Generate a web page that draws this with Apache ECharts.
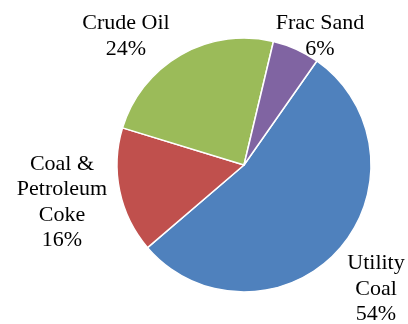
<!DOCTYPE html>
<html>
<head>
<meta charset="utf-8">
<script src="https://cdn.jsdelivr.net/npm/echarts@6/dist/echarts.min.js"></script>
<style>
  html, body { margin: 0; padding: 0; background: #fff; }
  #chart { width: 408px; height: 324px; }
</style>
</head>
<body>
<div id="chart"></div>
<script>
// Share of shipments by commodity (percent)
const categories = ['Utility\nCoal', 'Coal &\nPetroleum\nCoke', 'Crude Oil', 'Frac Sand'];
const shares = [54, 16, 24, 6];
const colors = ['#4F81BD', '#C0504D', '#9BBB59', '#8064A2'];

// Where each slice's label block is centred (px within the chart)
const labelSpots = [
  [376, 289],
  [62, 202],
  [126, 36],
  [320, 36]
];

const chart = echarts.init(document.getElementById('chart'), null, { renderer: 'canvas' });

chart.setOption({
  animation: false,
  backgroundColor: '#ffffff',
  series: [{
    type: 'pie',
    center: [244, 165],
    radius: 127,
    startAngle: 55,
    clockwise: true,
    avoidLabelOverlap: false,
    itemStyle: { borderColor: '#ffffff', borderWidth: 1.5 },
    label: {
      show: true,
      position: 'outside',
      formatter: p => p.name + '\n' + p.value + '%',
      fontFamily: '"Liberation Serif", "Times New Roman", serif',
      fontSize: 22,
      lineHeight: 25.5,
      color: '#000',
      align: 'center'
    },
    labelLine: { show: false },
    labelLayout: p => ({
      x: labelSpots[p.dataIndex][0],
      y: labelSpots[p.dataIndex][1],
      align: 'center',
      verticalAlign: 'middle'
    }),
    data: categories.map((name, i) => ({
      name: name,
      value: shares[i],
      itemStyle: { color: colors[i] }
    }))
  }]
});
</script>
</body>
</html>
